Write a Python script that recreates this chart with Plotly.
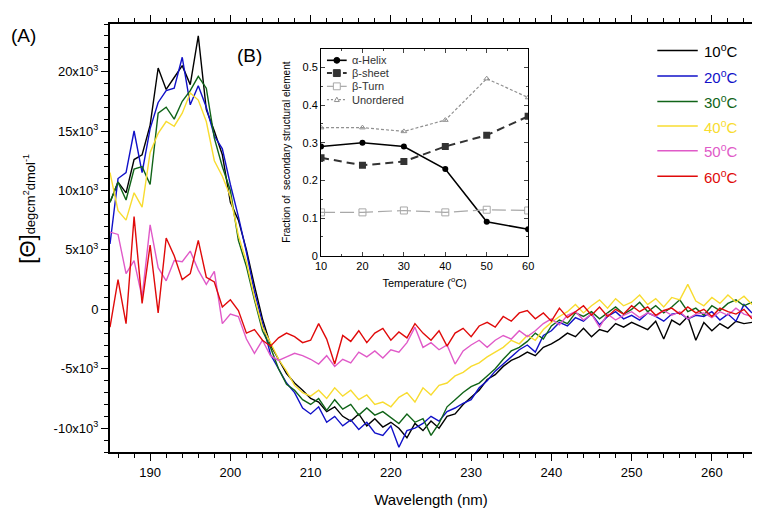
import plotly.graph_objects as go

# ---------------- data ----------------
wavelength = list(range(185, 266))  # nm, 1 nm steps

t10 = [9.0, 10.7, 9.8, 12.6, 13.0, 15.5, 20.3, 18.5, 19.5, 20.5, 18.9, 23.0, 16.8, 15.0, 13.0, 9.0,
       7.5, 5.0, 2.0, -0.8, -3.0, -4.2, -5.4, -6.2, -6.8, -7.5, -7.8, -8.6, -8.2, -9.0, -9.4, -8.8,
       -9.8, -9.2, -9.9, -9.5, -10.0, -10.8, -9.6, -10.2, -9.4, -10.0, -9.0, -8.8, -8.0, -7.4, -6.8,
       -5.9, -5.5, -4.8, -4.3, -4.0, -3.6, -3.9, -3.2, -2.9, -2.5, -2.0, -2.3, -1.6, -2.3, -1.7, -1.9,
       -1.2, -1.5, -1.1, -1.4, -1.7, -1.0, -2.5, -0.9, -1.3, -0.6, -2.6, -1.1, -1.8, -1.2, -1.6, -1.0,
       -1.2, -1.1]
t20 = [5.5, 11.0, 11.5, 15.0, 11.5, 15.2, 17.4, 18.4, 18.6, 21.2, 17.2, 18.8, 17.0, 14.6, 13.5, 10.5,
       7.8, 4.8, 1.5, -1.2, -3.8, -5.0, -6.2, -7.0, -8.3, -8.8, -8.2, -9.5, -9.0, -9.8, -9.3, -10.1,
       -9.5, -10.4, -10.6, -9.8, -11.6, -10.2, -10.0, -9.6, -9.0, -9.4, -8.6, -8.3, -7.9, -7.6, -6.6,
       -6.0, -5.2, -4.6, -4.0, -3.4, -3.0, -3.6, -2.2, -1.8, -1.1, -1.4, -0.7, -1.0, -0.4, -1.3, -0.6,
       -0.2, -0.8, -0.5, -0.9, -0.3, -0.6, -1.0, -0.4, -0.3, -0.8, -0.5, -0.6, -0.2, -0.9, -0.4, -1.0,
       0.4, -0.3]
t30 = [9.0, 10.7, 9.2, 11.8, 12.0, 10.5, 16.5, 17.0, 16.0, 17.5, 18.4, 19.6, 18.6, 14.4, 12.0, 10.0,
       5.8, 3.6, 0.8, -1.8, -3.2, -5.0, -6.3, -6.8, -7.6, -8.0, -7.5, -8.5, -7.6, -8.4, -8.0, -8.9,
       -8.3, -8.9, -8.6, -9.1, -9.6, -8.8, -9.5, -9.2, -10.6, -9.6, -8.2, -7.6, -7.0, -6.5, -6.2,
       -5.6, -5.0, -4.2, -3.5, -3.2, -2.7, -2.0, -2.5, -1.4, -0.9, -1.2, -0.3, -0.6, -0.2, -0.8, -0.3,
       0.2, -0.4, 0.0, 0.6, -0.2, 0.3, -0.3, 0.2, 0.8, -0.2, 0.1, -0.5, 0.3, -0.1, 0.5, 0.8,
       0.3, 0.6]
t40 = [11.5, 8.3, 7.5, 9.8, 8.6, 13.2, 14.8, 15.8, 15.4, 16.5, 18.2, 17.6, 15.8, 12.5, 11.2, 9.5,
       6.2, 4.0, 1.0, -1.5, -2.8, -4.2, -5.2, -6.4, -7.0, -7.3, -6.8, -7.5, -6.6, -7.3, -6.8, -7.6,
       -7.2, -8.0, -7.8, -8.2, -7.4, -7.0, -7.8, -6.6, -7.2, -6.4, -6.2, -5.6, -5.3, -4.8, -4.5,
       -4.0, -3.6, -3.2, -2.6, -2.9, -2.2, -2.6, -1.7, -1.1, -0.6, -0.2, 0.4, -0.3, 0.3, 0.8, 0.1,
       0.9, 0.3, 0.6, 1.2, 0.4, 0.9, 0.2, 1.0, 0.8, 2.1, 0.7, 0.3, 1.0, 0.5, 1.2, 0.6,
       1.1, 0.4]
t50 = [6.5, 6.3, 3.0, 4.1, 1.0, 7.1, 3.5, 2.4, 4.1, 4.0, 4.9, 3.3, 2.1, 3.2, -1.2, -0.4,
       -0.6, -2.5, -3.7, -2.6, -3.9, -4.3, -4.0, -3.7, -3.9, -4.2, -4.6, -3.9, -4.8, -4.2, -4.5, -3.6,
       -4.0, -3.5, -4.1, -3.4, -3.6, -2.8, -1.5, -3.2, -2.8, -3.4, -3.0, -4.6, -3.5, -3.0, -2.6,
       -3.2, -2.6, -2.2, -2.5, -1.8, -2.3, -1.8, -1.2, -0.8, -1.3, -0.5, -0.2, -0.9, -0.4, -1.5, -0.4,
       -0.9, -0.5, -0.2, -0.7, -0.3, -0.6, -0.1, -0.5, -0.2, -0.8, -0.4, -0.3, -0.7, -0.2, -0.5, 0.1,
       -0.4, -0.6]
t60 = [-1.5, 2.5, -1.2, 7.8, 0.5, 5.4, -0.3, 6.0, 4.5, 2.5, 3.0, 5.8, 2.7, 2.3, 0.2, 0.8,
       -0.1, -2.0, -1.7, -2.6, -3.1, -2.4, -2.0, -2.3, -2.8, -2.6, -1.2, -2.5, -4.6, -2.2, -2.7, -1.8,
       -2.8, -2.0, -1.6, -2.6, -1.9, -2.4, -1.2, -2.0, -2.6, -1.8, -3.1, -2.0, -1.6, -2.3, -1.4,
       -1.1, -1.5, -0.6, -1.0, -0.3, -0.1, -0.8, -0.3, -1.0, 0.1, -0.7, -0.2, 0.3, -0.5, 0.2, -0.6,
       0.0, -0.4, 0.3, -0.2, 0.2, -0.5, -0.1, 0.1, -0.4, 0.2, -0.3, 0.0, -0.6, 0.1, -0.2, -0.4,
       0.0, -0.8]

spectra_labels = ["10", "20", "30", "40", "50", "60"]
spectra_colors = ["#000000", "#1010c8", "#106418", "#f8dc30", "#e05ac8", "#e00a0a"]

# inset (B)
temperature = [10, 20, 30, 40, 50, 60]
alpha_helix = [0.29, 0.30, 0.29, 0.23, 0.09, 0.07]
beta_sheet = [0.26, 0.24, 0.25, 0.29, 0.32, 0.37]
beta_turn = [0.115, 0.115, 0.12, 0.115, 0.122, 0.12]
unordered = [0.34, 0.34, 0.33, 0.36, 0.47, 0.42]
inset_names = ["α-Helix", "β-sheet", "β-Turn", "Unordered"]

y_tickvals = [-10000, -5000, 0, 5000, 10000, 15000, 20000]
y_ticktext = ["-10x10<sup>3</sup>", "-5x10<sup>3</sup>", "0", "5x10<sup>3</sup>",
              "10x10<sup>3</sup>", "15x10<sup>3</sup>", "20x10<sup>3</sup>"]

FONT = "Arial, Liberation Sans, sans-serif"

fig = go.Figure()
series = [t10, t20, t30, t40, t50, t60]
for lab, col, vals in zip(spectra_labels, spectra_colors, series):
    fig.add_trace(go.Scatter(
        x=wavelength, y=[v * 1000 for v in vals], mode="lines",
        line=dict(color=col, width=1.4), name=lab + "°C", showlegend=False,
        xaxis="x", yaxis="y"))

# inset traces: (values, line color, width, dash, marker symbol, marker size)
inset_styles = [
    (alpha_helix, "#000000", 1.6, "solid", "circle", 6),
    (beta_sheet, "#333333", 2.0, "8px,5px", "square", 7),
    (beta_turn, "#a8a8a8", 1.2, "14px,5px", "square-open", 7),
    (unordered, "#909090", 1.2, "3px,2px", "triangle-up-open", 5),
]
for name, (vals, col, w, dash, sym, ms) in zip(inset_names, inset_styles):
    fig.add_trace(go.Scatter(x=temperature, y=vals, mode="lines+markers", name=name,
                             line=dict(color=col, width=w, dash=dash),
                             marker=dict(symbol=sym, size=ms, color=col),
                             showlegend=False, xaxis="x2", yaxis="y2"))

W, H = 760, 520
L, R, T, B = 102, 7, 8, 76
pw, ph = W - L - R, H - T - B

def px_x(x):
    return (x - L) / pw

def px_y(y):
    return (H - B - y) / ph

fig.update_layout(
    width=W, height=H,
    margin=dict(l=L, r=R, t=T, b=B),
    paper_bgcolor="white", plot_bgcolor="white",
    font=dict(family=FONT, size=13, color="black"),
    showlegend=False,
    xaxis=dict(range=[185, 265], tickvals=[190, 200, 210, 220, 230, 240, 250, 260],
               ticks="outside", ticklen=7, tickwidth=1, tickcolor="black",
               showline=True, linecolor="black", linewidth=2, mirror="allticks",
               showgrid=False, zeroline=False,
               minor=dict(dtick=2, ticks="outside", ticklen=4, tickcolor="black", showgrid=False),
               tickfont=dict(size=13),
               title=dict(text="Wavelength (nm)", font=dict(size=15), standoff=16)),
    yaxis=dict(range=[-12000, 24000], tickvals=y_tickvals, ticktext=y_ticktext,
               ticks="outside", ticklen=7, tickwidth=1, tickcolor="black",
               showline=True, linecolor="black", linewidth=2, mirror="allticks",
               showgrid=False, zeroline=False,
               minor=dict(dtick=1000, ticks="outside", ticklen=4, tickcolor="black", showgrid=False),
               tickfont=dict(size=13)),
    xaxis2=dict(domain=[px_x(316), px_x(526)], anchor="y2", range=[10, 60],
                tickvals=[10, 20, 30, 40, 50, 60], ticks="inside", ticklen=4,
                showline=True, linecolor="black", linewidth=1, mirror="allticks",
                showgrid=False, zeroline=False,
                minor=dict(dtick=5, ticks="inside", ticklen=2, showgrid=False),
                tickfont=dict(size=11),
                title=dict(text="Temperature (<sup>o</sup>C)", font=dict(size=11), standoff=8)),
    yaxis2=dict(domain=[px_y(244), px_y(33)], anchor="x2", range=[0, 0.55],
                tickvals=[0, 0.1, 0.2, 0.3, 0.4, 0.5], ticks="inside", ticklen=4,
                showline=True, linecolor="black", linewidth=1, mirror="allticks",
                showgrid=False, zeroline=False,
                minor=dict(dtick=0.05, ticks="inside", ticklen=2, showgrid=False),
                tickfont=dict(size=11),
                title=dict(text="Fraction of  secondary structural element", font=dict(size=10), standoff=10)),
)

# main legend (layout decoration)
rows_y = [35, 61, 87, 112, 137, 163]
for lab, col, yy in zip(spectra_labels, spectra_colors, rows_y):
    fig.add_shape(type="line", xref="paper", yref="paper",
                  x0=px_x(657), x1=px_x(698), y0=px_y(yy), y1=px_y(yy),
                  line=dict(color=col, width=1.5))
    fig.add_annotation(xref="paper", yref="paper", x=px_x(702), y=px_y(yy),
                       xanchor="left", yanchor="middle", showarrow=False,
                       text=lab + "<sup>o</sup>C", font=dict(size=15, color=col))

# inset legend (layout decoration)
inset_rows = [45, 58, 71.5, 85]
lx0, lx1, lxm = 322, 342, 332
for name, (vals, col, w, dash, sym, ms), yy in zip(inset_names, inset_styles, inset_rows):
    ldash = {"solid": "solid", "8px,5px": "5px,3px", "14px,5px": "solid", "3px,2px": "2px,2px"}[dash]
    fig.add_shape(type="line", xref="paper", yref="paper",
                  x0=px_x(lx0), x1=px_x(lx1), y0=px_y(yy), y1=px_y(yy),
                  line=dict(color=col, width=w, dash=ldash))
    r = ms / 2
    if sym == "circle":
        fig.add_shape(type="circle", xref="paper", yref="paper",
                      x0=px_x(lxm - r), x1=px_x(lxm + r), y0=px_y(yy + r), y1=px_y(yy - r),
                      line=dict(color=col, width=1), fillcolor=col)
    elif sym == "square":
        fig.add_shape(type="rect", xref="paper", yref="paper",
                      x0=px_x(lxm - r), x1=px_x(lxm + r), y0=px_y(yy + r), y1=px_y(yy - r),
                      line=dict(color=col, width=1), fillcolor=col)
    elif sym == "square-open":
        fig.add_shape(type="rect", xref="paper", yref="paper",
                      x0=px_x(lxm - r), x1=px_x(lxm + r), y0=px_y(yy + r), y1=px_y(yy - r),
                      line=dict(color=col, width=1), fillcolor="white")
    else:
        path = "M {a} {b} L {c} {b} L {d} {e} Z".format(
            a=px_x(lxm - r), b=px_y(yy + r * 0.8), c=px_x(lxm + r), d=px_x(lxm), e=px_y(yy - r))
        fig.add_shape(type="path", xref="paper", yref="paper", path=path,
                      line=dict(color=col, width=1), fillcolor="white")
    fig.add_annotation(xref="paper", yref="paper", x=px_x(345), y=px_y(yy),
                       xanchor="left", yanchor="middle", showarrow=False,
                       text=name, font=dict(size=11, color="#333333"))

# Y axis title
fig.add_annotation(xref="paper", yref="paper", x=px_x(18), y=px_y(196),
                   xanchor="center", yanchor="middle", showarrow=False, textangle=-90,
                   text="<span style='font-size:22px'>[Θ]</span>degcm<sup>2</sup>dmol<sup>-1</sup>",
                   font=dict(size=13))
# panel labels
fig.add_annotation(xref="paper", yref="paper", x=px_x(0), y=px_y(20),
                   xanchor="left", yanchor="middle", showarrow=False,
                   text="(A)", font=dict(size=19))
fig.add_annotation(xref="paper", yref="paper", x=px_x(229), y=px_y(40),
                   xanchor="left", yanchor="middle", showarrow=False,
                   text="(B)", font=dict(size=19))

fig.write_html("out.html")
